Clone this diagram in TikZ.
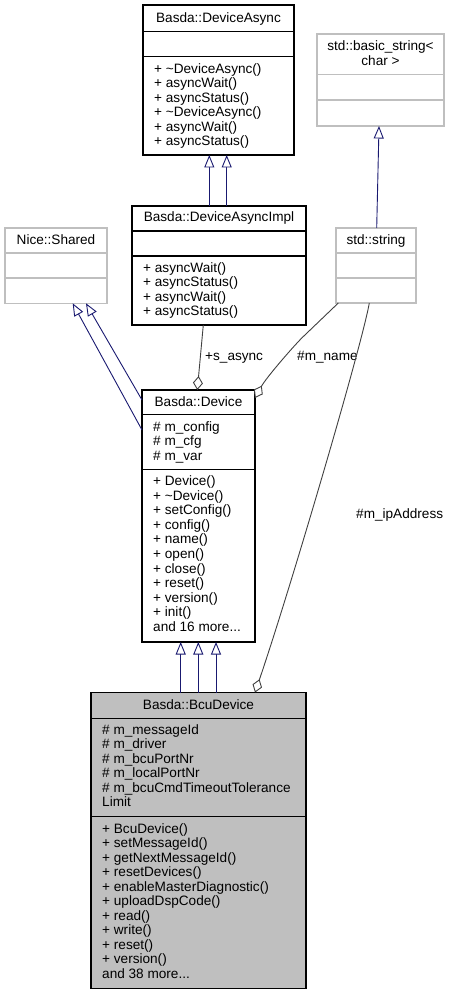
\documentclass[tikz,border=0pt]{standalone}
\usepackage{fontspec}
\setmainfont{Liberation Sans}
\usetikzlibrary{arrows.meta,calc}
\definecolor{navyline}{HTML}{191970}
\definecolor{useline}{HTML}{404040}
\definecolor{lightborder}{HTML}{BFBFBF}
\definecolor{bcufill}{HTML}{BFBFBF}
\newcommand{\mydots}{...}
\begin{document}
\begin{tikzpicture}[x=1pt,y=-1pt,
  every node/.style={font=\fontsize{13.6}{14.5}\selectfont, text=black},
  cls/.style={rectangle, draw=black, line width=1.1pt, fill=white, inner sep=0pt, outer sep=0pt, anchor=north west},
  extcls/.style={cls, draw=lightborder},
  sepline/.style={draw=black, line width=1.1pt},
  extsep/.style={draw=lightborder, line width=1.1pt},
  title/.style={anchor=base, inner sep=0pt},
  member/.style={anchor=base west, inner sep=0pt},
  lbl/.style={anchor=base west, inner sep=0pt},
  inh/.style={draw=navyline, line width=0.9pt, -{Triangle[length=12.5pt, width=10pt, fill=white]}},
  use/.style={draw=useline, line width=0.9pt, -{Diamond[length=14pt, width=10pt, fill=white]}},
]
\useasboundingbox (0,0) rectangle (450,995);

% Basda::DeviceAsync
\node[cls, minimum width=151pt, minimum height=150pt] (da) at (143,5) {};
\draw[sepline] (143,31.5) -- (294,31.5);
\draw[sepline] (143,56.5) -- (294,56.5);
\node[title] (da-t) at (218.5,22.5) {Basda::DeviceAsync};
\foreach \s [count=\i] in {+ \textasciitilde DeviceAsync(), + asyncWait(), + asyncStatus(), + \textasciitilde DeviceAsync(), + asyncWait(), + asyncStatus()}
  \node[member] (da-m\i) at (154,{73.5+(\i-1)*14.4}) {\s};

% std::basic_string< char >
\node[extcls, minimum width=127pt, minimum height=92pt] (bs) at (317,34) {};
\draw[extsep] (317,74.3) -- (444,74.3);
\draw[extsep] (317,100) -- (444,100);
\node[title] (bs-t1) at (380.5,51) {std::basic\_string<};
\node[title] (bs-t2) at (380.5,65.5) {char >};

% Nice::Shared
\node[extcls, minimum width=102pt, minimum height=75.3pt] (ns) at (5,228) {};
\draw[extsep] (5,253) -- (107,253);
\draw[extsep] (5,278) -- (107,278);
\node[title] (ns-t) at (56,244.3) {Nice::Shared};

% Basda::DeviceAsyncImpl
\node[cls, minimum width=174pt, minimum height=119pt] (dai) at (132,206) {};
\draw[sepline] (132,231) -- (306,231);
\draw[sepline] (132,256) -- (306,256);
\node[title] (dai-t) at (219,221.7) {Basda::DeviceAsyncImpl};
\foreach \s [count=\i] in {+ asyncWait(), + asyncStatus(), + asyncWait(), + asyncStatus()}
  \node[member] (dai-m\i) at (143,{272+(\i-1)*14.6}) {\s};

% std::string
\node[extcls, minimum width=80pt, minimum height=75pt] (ss) at (336,228) {};
\draw[extsep] (336,253) -- (416,253);
\draw[extsep] (336,278) -- (416,278);
\node[title] (ss-t) at (376,244) {std::string};

% Basda::Device
\node[cls, minimum width=113pt, minimum height=252pt] (dev) at (142,390) {};
\draw[sepline] (142,414.5) -- (255,414.5);
\draw[sepline] (142,469.5) -- (255,469.5);
\node[title] (dev-t) at (198.5,406) {Basda::Device};
\foreach \s [count=\i] in {\# m\_config, \# m\_cfg, \# m\_var}
  \node[member] (dev-a\i) at (153,{431+(\i-1)*14.6}) {\s};
\foreach \s [count=\i] in {+ Device(), + \textasciitilde Device(), + setConfig(), + config(), + name(), + open(), + close(), + reset(), + version(), + init(), and 16 more\mydots}
  \node[member] (dev-m\i) at (153,{485.5+(\i-1)*14.6}) {\s};

% Basda::BcuDevice
\node[cls, fill=bcufill, minimum width=215pt, minimum height=296pt] (bcu) at (91,692.5) {};
\draw[sepline] (91,718.3) -- (306,718.3);
\draw[sepline] (91,816.7) -- (306,816.7);
\node[title] (bcu-t) at (198.5,709) {Basda::BcuDevice};
\foreach \s [count=\i] in {\# m\_messageId, \# m\_driver, \# m\_bcuPortNr, \# m\_localPortNr, \# m\_bcuCmdTimeoutTolerance, Limit}
  \node[member] (bcu-a\i) at (102,{734.3+(\i-1)*14.5}) {\s};
\foreach \s [count=\i] in {+ BcuDevice(), + setMessageId(), + getNextMessageId(), + resetDevices(), + enableMasterDiagnostic(), + uploadDspCode(), + read(), + write(), + reset(), + version(), and 38 more\mydots}
  \node[member] (bcu-m\i) at (102,{833.3+(\i-1)*14.5}) {\s};

% inheritance
\draw[inh] ($(dai.north west)+(77.3,0)$) -- ($(da.south west)+(66.3,0)$);
\draw[inh] ($(dai.north west)+(94.7,0)$) -- ($(da.south west)+(83.7,0)$);
\draw[inh] ($(ss.north west)+(40.7,0)$) -- ($(bs.south west)+(62,0)$);
\draw[inh] ($(dev.north west)+(0,10)$) -- ($(ns.south west)+(81,0)$);
\draw[inh] ($(dev.north west)+(0,40)$) -- ($(ns.south west)+(67.7,0)$);
\draw[inh] ($(bcu.north west)+(89.7,0)$) -- ($(dev.south west)+(38.7,0)$);
\draw[inh] ($(bcu.north west)+(107.3,0)$) -- ($(dev.south west)+(56.3,0)$);
\draw[inh] ($(bcu.north west)+(125,0)$) -- ($(dev.south west)+(74,0)$);

% usage
\draw[use] ($(dai.south west)+(71.3,0)$) -- ($(dev.north west)+(55.3,0)$);
\node[lbl] (l-async) at (205,360.7) {+s\_async};
\draw[use] ($(ss.south west)+(2.3,0)$) -- ++(-36,34.5) .. controls +(-10,10) and +(11,-20) .. ($(dev.north east)+(0,8)$);
\node[lbl] (l-name) at (297,360.7) {\#m\_name};
\draw[use] ($(ss.south west)+(33.3,0)$) .. controls +(-7.3,42) and +(35,-102.5) .. ($(bcu.north west)+(164,0)$);
\node[lbl] (l-ip) at (356,518.3) {\#m\_ipAddress};
\end{tikzpicture}
\end{document}
